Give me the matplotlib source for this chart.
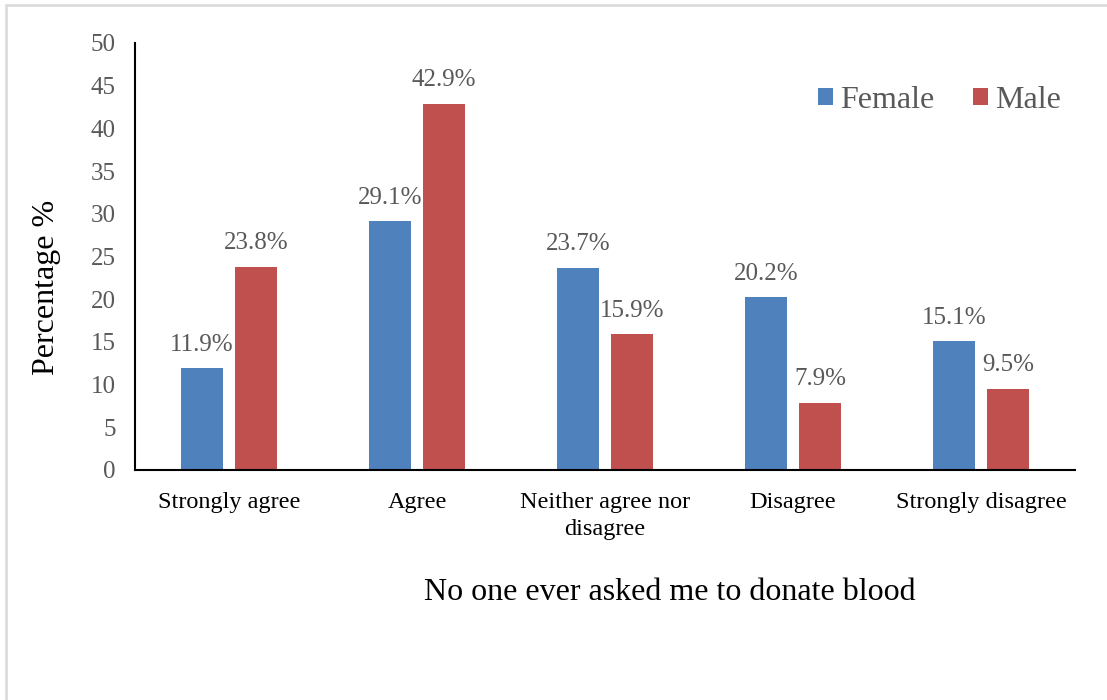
import numpy as np
import matplotlib.pyplot as plt
from matplotlib.patches import Rectangle

plt.rcParams['font.family'] = ['Liberation Serif', 'DejaVu Serif']

categories = ['Strongly agree', 'Agree', 'Neither agree nor\ndisagree', 'Disagree', 'Strongly disagree']
female = [11.9, 29.1, 23.7, 20.2, 15.1]
male = [23.8, 42.9, 15.9, 7.9, 9.5]

blue = '#4F81BD'
red = '#C0504D'
grey = '#595959'

fig = plt.figure(figsize=(11.07, 7.0), dpi=100)
ax = fig.add_axes([135 / 1107, 1 - 470 / 700, 940 / 1107, 427 / 700])

# outer chart frame (runs off the right and bottom edges)
fig.patches.append(Rectangle((5.5 / 1107, -0.05), 1.1, 1.05 - 5.5 / 700, transform=fig.transFigure,
                             fill=False, edgecolor='#d9d9d9', linewidth=1.8))

x = np.arange(len(categories))
w = 0.223
off = 0.144
b1 = ax.bar(x - off, female, w, color=blue, label='Female')
b2 = ax.bar(x + off, male, w, color=red, label='Male')

for bars, vals in ((b1, female), (b2, male)):
    for b, v in zip(bars, vals):
        ax.annotate(f'{v}%', (b.get_x() + b.get_width() / 2, v), xytext=(0, 9),
                    textcoords='offset points', ha='center', va='bottom',
                    fontsize=18, color=grey)

ax.set_xlim(-0.5, len(categories) - 0.5)
ax.set_ylim(0, 50)
ax.set_yticks(range(0, 51, 5))
ax.tick_params(axis='y', length=0, labelsize=18, labelcolor=grey, pad=14)
ax.tick_params(axis='x', length=0, labelsize=17.5, pad=16)
ax.set_xticks(x)
ax.set_xticklabels(categories, linespacing=1.35)
for s in ('top', 'right'):
    ax.spines[s].set_visible(False)
ax.spines['left'].set_linewidth(1.5)
ax.spines['bottom'].set_linewidth(1.5)

ax.set_ylabel('Percentage %', fontsize=23)
ax.yaxis.set_label_coords((47 - 135) / 940, (470 - 287) / 427)
ax.set_xlabel('No one ever asked me to donate blood', fontsize=23)
ax.xaxis.set_label_coords((670 - 135) / 940, (470 - 593) / 427)
ax.xaxis.label.set_va('center')
ax.yaxis.label.set_va('center')

leg = ax.legend(loc='upper right', bbox_to_anchor=((1061 - 135) / 940, 1.0 - 43 / 427), ncol=2,
                frameon=False, fontsize=23, handlelength=0.47, handleheight=0.47,
                handletextpad=0.22, columnspacing=1.2, borderaxespad=0, borderpad=0)
for t in leg.get_texts():
    t.set_color(grey)

fig.savefig('out.png', dpi=100)
